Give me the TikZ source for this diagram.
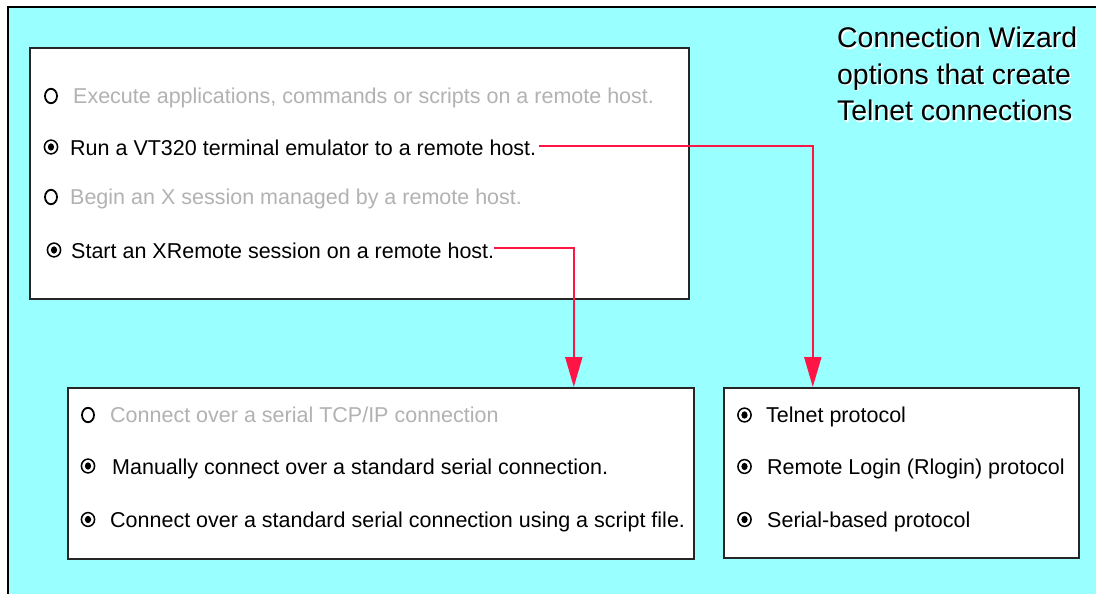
\documentclass[tikz,border=0pt]{standalone}
\usepackage{fontspec}
\setmainfont{Liberation Sans}
\usetikzlibrary{arrows.meta}
\definecolor{paneCyan}{RGB}{153,255,255}
\definecolor{linkRed}{RGB}{255,20,70}
\definecolor{dimText}{RGB}{178,178,178}

\tikzset{
  panel/.style={draw=black!85,line width=1.6pt,fill=white,rectangle,anchor=north west,inner sep=0pt},
  item/.style={anchor=west,inner sep=0pt,text height=15pt,text depth=0pt,font=\fontsize{21.5}{24}\selectfont},
  dim/.style={item,text=dimText},
  radio/.style={inner sep=0pt,minimum size=16pt},
  ring/.style={draw=black,line width=1.5pt},
  link/.style={draw=linkRed,line width=2pt,-{Triangle[length=30pt,width=17pt]}},
  title/.style={anchor=base west,inner sep=0pt,font=\fontsize{28.4}{36}\selectfont},
}

\begin{document}
\begin{tikzpicture}[x=1pt,y=-1pt]
  \useasboundingbox (0,0) rectangle (1096,594);
  \clip (0,0) rectangle (1096,594);
  \fill[white] (0,0) rectangle (1096,594);

  % cyan backdrop, running off the right and bottom edges
  \draw[fill=paneCyan,line width=1.6pt] (8,7) rectangle (1120,620);

  % heading with a soft white drop shadow
  \foreach \t/\yy in {Connection Wizard/48,options that create/84.5,Telnet connections/121}
    \node[title,text=white] at (838.5,\yy+1.5) {\t};
  \node[title] (head1) at (837,48) {Connection Wizard};
  \node[title] (head2) at (837,84.5) {options that create};
  \node[title] (head3) at (837,121) {Telnet connections};

  % connection type choices
  \node[panel,minimum width=659pt,minimum height=251pt] (win) at (29,47) {};
  \node[radio] (r1) at (51,96) {};
  \node[dim] (exec) at (73,95.5) {Execute applications, commands or scripts on a remote host.};
  \node[radio] (r2) at (51,147) {};
  \node[item] (vt) at (70,147.5) {Run a VT320 terminal emulator to a remote host.};
  \node[radio] (r3) at (51,197) {};
  \node[dim] (xdm) at (70,196.5) {Begin an X session managed by a remote host.};
  \node[radio] (r4) at (54,250) {};
  \node[item] (xr) at (71,250.5) {Start an XRemote session on a remote host.};

  % serial choices
  \node[panel,minimum width=626pt,minimum height=171pt] (serbox) at (67,387) {};
  \node[radio] (s1) at (88,415) {};
  \node[dim] (tcp) at (110,414.5) {Connect over a serial TCP/IP connection};
  \node[radio] (s2) at (88,466) {};
  \node[item] (man) at (112,466.5) {Manually connect over a standard serial connection.};
  \node[radio] (s3) at (88,519.5) {};
  \node[item] (scr) at (110,519.5) {Connect over a standard serial connection using a script file.};

  % protocol choices
  \node[panel,minimum width=355pt,minimum height=170pt] (telbox) at (723,387) {};
  \node[radio] (p1) at (744.5,415) {};
  \node[item] (tel) at (766,414.5) {Telnet protocol};
  \node[radio] (p2) at (744.5,466.5) {};
  \node[item] (rlog) at (767,466.5) {Remote Login (Rlogin) protocol};
  \node[radio] (p3) at (744.5,519.5) {};
  \node[item] (sbp) at (767,519.5) {Serial-based protocol};

  % radio buttons: empty rings and selected ones
  \foreach \n in {r1,r3,s1}
    \draw[ring,line width=1.8pt] (\n.center) ellipse [x radius=6pt,y radius=7.2pt];
  \foreach \n in {r2,r4,s2,s3,p1,p2,p3} {
    \draw[ring] (\n.center) ellipse [x radius=6.6pt,y radius=6.9pt];
    \fill[black] (\n.center) ellipse [x radius=3.1pt,y radius=3.7pt];
  }

  % links
  \draw[link] ([xshift=3pt,yshift=1.5pt]vt.east) -| ([xshift=-88.5pt]telbox.north);
  \draw[link] ([yshift=2.5pt]xr.east) -| ([xshift=193pt]serbox.north);
\end{tikzpicture}
\end{document}
